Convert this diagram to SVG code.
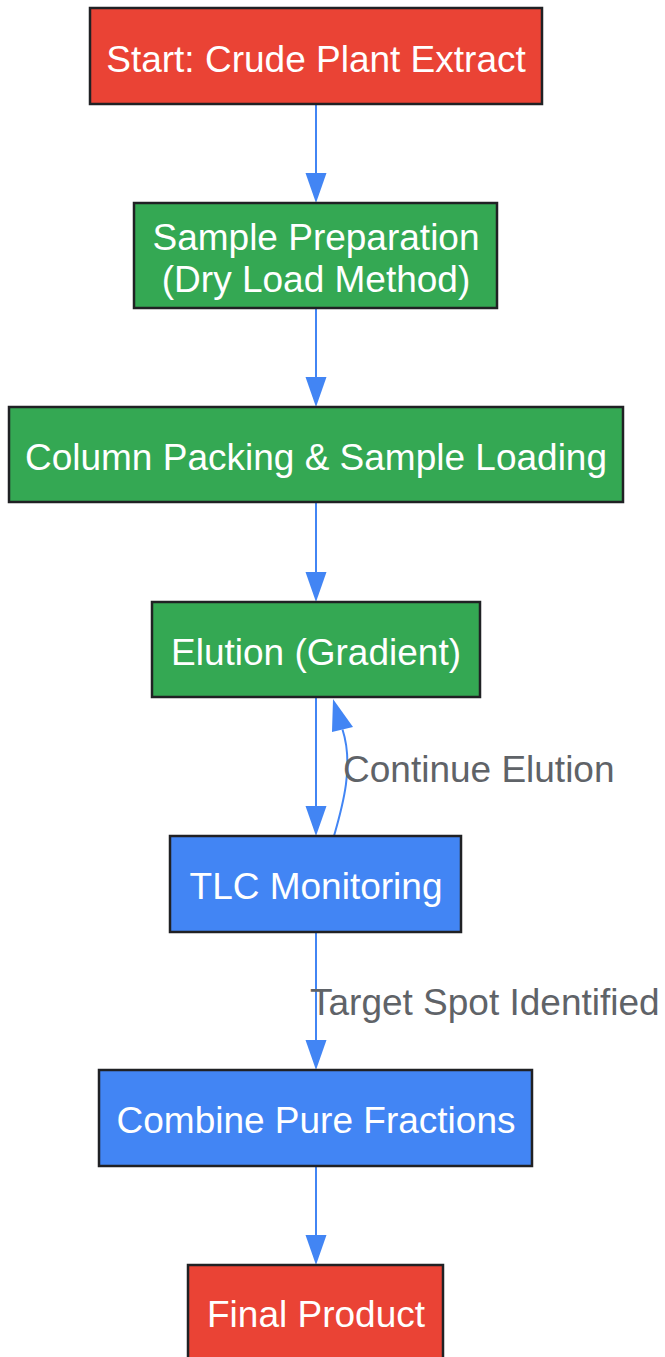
<svg xmlns="http://www.w3.org/2000/svg" width="665" height="1357" viewBox="0 0 665 1357">
<style>
.box{stroke:#202124;stroke-width:2.5}
.red{fill:#EA4335}
.green{fill:#34A853}
.blue{fill:#4285F4}
.t{font-family:"Liberation Sans",Arial,sans-serif;font-size:37px;fill:#ffffff;text-anchor:middle}
.lbl{font-family:"Liberation Sans",Arial,sans-serif;font-size:37px;fill:#5F6368}
.edge{stroke:#4285F4;stroke-width:2;fill:none}
.head{fill:#4285F4}
</style>
<rect width="665" height="1357" fill="#ffffff"/>
<g id="connectors">
<line class="edge" x1="316" y1="104" x2="316" y2="175"/>
<polygon class="head" points="305.5,173 326.5,173 316,203"/>
<line class="edge" x1="316" y1="308" x2="316" y2="379"/>
<polygon class="head" points="305.5,377 326.5,377 316,407"/>
<line class="edge" x1="316" y1="502" x2="316" y2="574"/>
<polygon class="head" points="305.5,572 326.5,572 316,602"/>
<line class="edge" x1="316" y1="697" x2="316" y2="808"/>
<polygon class="head" points="305.5,806 326.5,806 316,836"/>
<path class="edge" d="M334,836 C343,805 354,765 342.5,729.5"/>
<polygon class="head" points="332,732 353,727 333,699"/>
<line class="edge" x1="316" y1="932" x2="316" y2="1042"/>
<polygon class="head" points="305.5,1040 326.5,1040 316,1070"/>
<line class="edge" x1="316" y1="1166" x2="316" y2="1237"/>
<polygon class="head" points="305.5,1235 326.5,1235 316,1265"/>
<text class="lbl" x="343" y="782">Continue Elution</text>
<text class="lbl" x="310" y="1015">Target Spot Identified</text>
</g>
<g id="start">
<rect class="box red" x="90" y="8" width="452" height="96"/>
<text class="t" x="316" y="72">Start: Crude Plant Extract</text>
</g>
<g id="prep">
<rect class="box green" x="134" y="203" width="363" height="105"/>
<text class="t" x="316" y="250">Sample Preparation</text>
<text class="t" x="316" y="292">(Dry Load Method)</text>
</g>
<g id="packing">
<rect class="box green" x="9" y="407" width="614" height="95"/>
<text class="t" x="316" y="470">Column Packing &amp; Sample Loading</text>
</g>
<g id="elution">
<rect class="box green" x="152" y="602" width="328" height="95"/>
<text class="t" x="316" y="665">Elution (Gradient)</text>
</g>
<g id="tlc">
<rect class="box blue" x="170" y="836" width="291" height="96"/>
<text class="t" x="316" y="899">TLC Monitoring</text>
</g>
<g id="combine">
<rect class="box blue" x="99" y="1070" width="433" height="96"/>
<text class="t" x="316" y="1133">Combine Pure Fractions</text>
</g>
<g id="final">
<rect class="box red" x="188" y="1265" width="255" height="96"/>
<text class="t" x="316" y="1327">Final Product</text>
</g>
</svg>
